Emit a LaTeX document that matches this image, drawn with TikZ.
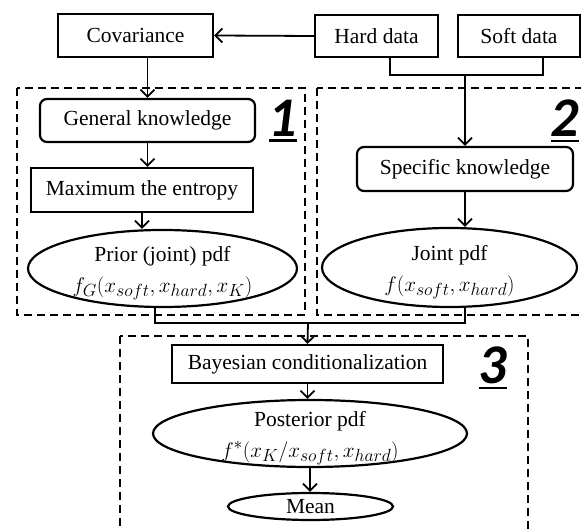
\documentclass[tikz,border=0pt]{standalone}
\usepackage{fontspec}
\usepackage{graphicx}
\setmainfont{Liberation Serif}
\newfontfamily\tagfont{Carlito}
\usetikzlibrary{shapes.geometric,arrows.meta}
\newcommand{\formula}[1]{\scalebox{0.85}{\fontsize{24.88}{31}\selectfont $#1$}}
\newcommand{\twolines}[2]{\raisebox{-7pt}[0pt][0pt]{\begin{tabular}{@{}c@{}}#1\\#2\end{tabular}}}
\begin{document}
\begin{tikzpicture}
  [x=1pt,y=-1pt,line width=1.8pt,>={Straight Barb[length=7pt,width=14pt]},
   every node/.style={font=\fontsize{21.5}{31}\selectfont,inner sep=0pt,line width=2.2pt},
   box/.style={draw,rectangle},
   rbox/.style={draw,rectangle,rounded corners=7pt},
   oval/.style={draw,ellipse},
   part/.style={draw,line width=1.5pt,dash pattern=on 8pt off 5pt},
   tag/.style={font=\fontsize{56}{56}\tagfont\bfseries\itshape}]
  \useasboundingbox (0,0) rectangle (581,529);
  \begin{scope}
    \clip (0,0) rectangle (581,529);
    \draw[part] (17,88) rectangle (305,315);
    \draw[part] (317,88) rectangle (600,315);
    \draw[part] (120,336) rectangle (528,560);
  \end{scope}
  \node (cov)[box,minimum width=155,minimum height=43] at (135.5,35.5) {Covariance};
  \node (hard)[box,minimum width=123,minimum height=42] at (376.5,36) {Hard data};
  \node (soft)[box,minimum width=122,minimum height=42] at (519,36) {Soft data};
  \node (gen)[rbox,minimum width=215,minimum height=43] at (147.5,120.5) {General knowledge};
  \node (maxent)[box,minimum width=222,minimum height=44] at (142,190) {Maximum the entropy};
  \node (prior)[oval,minimum width=269,minimum height=77] at (162.5,268.5)
    {\twolines{Prior (joint) pdf}{\formula{f_G(x_{soft},x_{hard},x_K)}}};
  \node (spec)[rbox,minimum width=216,minimum height=44] at (465,169) {Specific knowledge};
  \node (joint)[oval,minimum width=255,minimum height=79] at (449.5,267.5)
    {\twolines{Joint pdf}{\formula{f(x_{soft},x_{hard})}}};
  \node (bayes)[box,minimum width=271,minimum height=38] at (307.5,364) {Bayesian conditionalization};
  \node (post)[oval,minimum width=314,minimum height=67] at (310,433.5)
    {\twolines{Posterior pdf}{\formula{f^*(x_K/x_{soft},x_{hard})}}};
  \node (mean)[oval,minimum width=165,minimum height=27] at (310.5,506.5) {Mean};
  \node (t1)[tag] at (283,121) {\vtop{\hbox{1}\kern3pt\hrule height 2.5pt}};
  \node (t2)[tag] at (565,121) {\vtop{\hbox{2}\kern3pt\hrule height 2.5pt}};
  \node (t3)[tag] at (493,368) {\vtop{\hbox{3}\kern3pt\hrule height 2.5pt}};
  \coordinate (hs) at (465,75);
  \coordinate (pj) at (308,323);
  \draw[->] (hard.west) -- (cov.east);
  \draw[->] (gen.north |- cov.south) -- (gen.north);
  \draw ([xshift=13.5pt]hard.south) |- (hs) -| ([xshift=24pt]soft.south);
  \draw[->] (hs) -- (spec.north);
  \draw ([xshift=-7.5pt]prior.south) |- (pj) -| ([xshift=15.5pt]joint.south);
  \draw[->] (pj) -- (bayes.north);
  \foreach \from/\to in {gen/maxent,maxent/prior,spec/joint,bayes/post,post/mean}
    \draw[->] (\from.south) -- (\from.south |- \to.north);
\end{tikzpicture}
\end{document}
